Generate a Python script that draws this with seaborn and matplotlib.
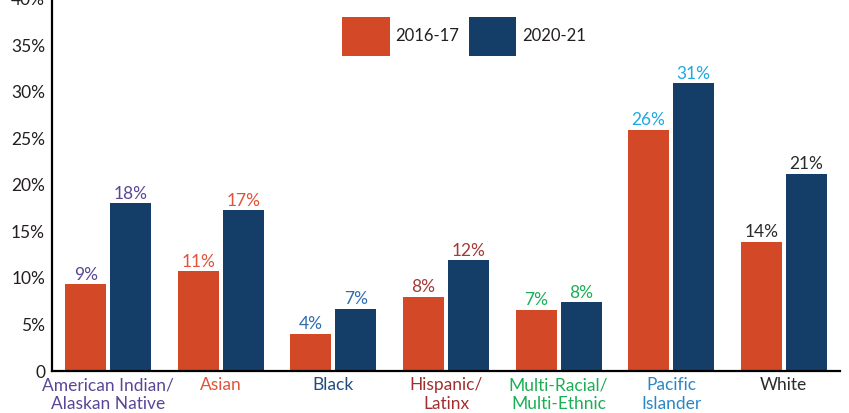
import pandas as pd
import matplotlib.pyplot as plt
import matplotlib.ticker as mticker
import seaborn as sns

# groups
groups = ['American Indian/\nAlaskan Native', 'Asian', 'Black', 'Hispanic/\nLatinx',
          'Multi-Racial/\nMulti-Ethnic', 'Pacific\nIslander', 'White']
years = ['2016-17', '2020-21']
vals_2016 = [9.3, 10.7, 4.0, 8.0, 6.6, 25.9, 13.9]
vals_2020 = [18.0, 17.3, 6.7, 11.9, 7.4, 30.9, 21.2]
labels_2016 = ['9%', '11%', '4%', '8%', '7%', '26%', '14%']
labels_2020 = ['18%', '17%', '7%', '12%', '8%', '31%', '21%']
y_ticks = [0, 5, 10, 15, 20, 25, 30, 35, 40]

bar_colors = ['#D34927', '#143E68']
group_colors = ['#5B4696', '#E2533B', '#1F4C7F', '#A22F2F', '#1BAE55', '#2C86C3', '#2B2B2B']
value_colors = ['#5B4696', '#E2533B', '#2F6DB3', '#A23A3A', '#1BAE55', '#1FA9E0', '#2B2B2B']

df = pd.DataFrame({
    'group': groups * 2,
    'year': [years[0]] * len(groups) + [years[1]] * len(groups),
    'value': vals_2016 + vals_2020,
})

sns.set_style('white')
plt.rcParams['font.family'] = ['Lato', 'DejaVu Sans']
fs = 12.5

fig = plt.figure(figsize=(8.49, 4.13), dpi=100)
ax = fig.add_axes([52 / 849, 42 / 413, 788 / 849, 372.4 / 413])

sns.barplot(data=df, x='group', y='value', hue='year', order=groups, hue_order=years,
            palette=bar_colors, saturation=1, width=0.8, gap=0.09, errorbar=None,
            linewidth=0, edgecolor='none', ax=ax)

ax.set_xlim(-0.5, len(groups) - 0.5)
ax.set_ylim(0, 40)
ax.set_xlabel('')
ax.set_ylabel('')

ax.set_yticks(y_ticks)
ax.set_yticklabels(['0' if t == 0 else f'{t}%' for t in y_ticks])
ax.xaxis.set_minor_locator(mticker.FixedLocator([i + 0.5 for i in range(len(groups))]))

for side in ['top', 'right']:
    ax.spines[side].set_visible(False)
for side in ['left', 'bottom']:
    ax.spines[side].set_linewidth(1.6)
    ax.spines[side].set_color('black')

ax.tick_params(axis='y', direction='in', length=7, width=1.6, color='black',
               labelsize=fs, labelcolor='#231F20', pad=5)
ax.tick_params(axis='x', which='major', length=0, labelsize=fs, pad=4.5)
ax.tick_params(axis='x', which='minor', direction='in', length=7, width=1.6, color='black')

for lbl, c in zip(ax.get_xticklabels(), group_colors):
    lbl.set_color(c)
    lbl.set_linespacing(1.2)

for cont, labs in zip(ax.containers, [labels_2016, labels_2020]):
    texts = ax.bar_label(cont, labels=labs, padding=1, fontsize=fs)
    for t, c in zip(texts, value_colors):
        t.set_color(c)

leg = ax.legend(loc='center', bbox_to_anchor=(464 / 849, 1 - 36.5 / 413),
                bbox_transform=fig.transFigure, ncol=2, frameon=False, fontsize=12,
                handlelength=2.85, handleheight=3.2, handletextpad=0.35,
                columnspacing=0.55, borderpad=0, labelcolor='#231F20')

fig.savefig('out.png', dpi=100)
